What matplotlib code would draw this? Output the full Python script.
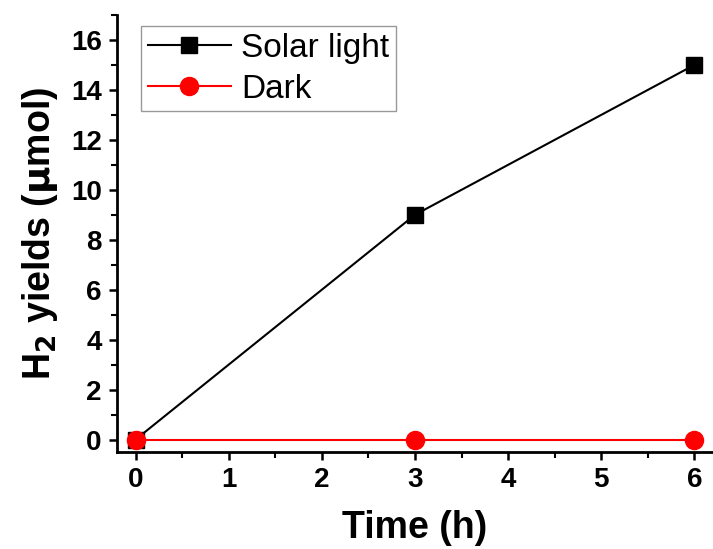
import matplotlib.pyplot as plt
from matplotlib.ticker import MultipleLocator

plt.rcParams['font.family'] = ['Liberation Sans', 'DejaVu Sans']

time_h = [0, 3, 6]
solar = [0, 9, 15]
dark = [0, 0, 0]

fig = plt.figure(figsize=(7.13, 5.49), dpi=100)
ax = fig.add_axes([117 / 713, 97 / 549, 596 / 713, 437 / 549])

ax.plot(time_h, solar, color='black', lw=1.5, marker='s', ms=12, label='Solar light')
ax.plot(time_h, dark, color='red', lw=1.5, marker='o', ms=13, label='Dark')

ax.set_xlim(-0.2, 6.2)
ax.set_ylim(-0.5, 17)
ax.xaxis.set_major_locator(MultipleLocator(1))
ax.xaxis.set_minor_locator(MultipleLocator(0.5))
ax.yaxis.set_major_locator(MultipleLocator(2))
ax.yaxis.set_minor_locator(MultipleLocator(1))

for s in ['top', 'right']:
    ax.spines[s].set_visible(False)
for s in ['left', 'bottom']:
    ax.spines[s].set_linewidth(2)
ax.tick_params(which='major', direction='out', length=6, width=1.8, labelsize=20, pad=5)
ax.tick_params(which='minor', direction='out', length=4, width=1.5)
for lbl in ax.get_xticklabels() + ax.get_yticklabels():
    lbl.set_fontweight('bold')

ax.set_xlabel('Time (h)', fontsize=27, fontweight='bold', labelpad=12)
ax.set_ylabel(r'H$_\mathbf{2}$ yields ($\mathbf{\mu}$mol)', fontsize=27, fontweight='bold', labelpad=8)

leg = ax.legend(loc='upper left', bbox_to_anchor=(0.04, 0.975), fontsize=24, frameon=True,
                fancybox=False, edgecolor='gray', handlelength=2.5, borderpad=0.2,
                labelspacing=0.3, handletextpad=0.3, borderaxespad=0)
leg.get_frame().set_linewidth(1)

fig.savefig('out.png', dpi=100)
